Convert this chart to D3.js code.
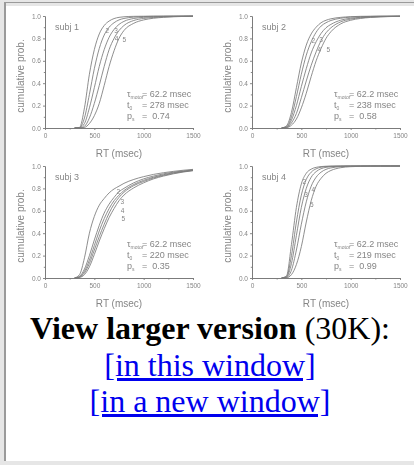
<!DOCTYPE html>
<html><head><meta charset="utf-8">
<script src="https://cdn.jsdelivr.net/npm/d3@7/dist/d3.min.js"></script>
<style>
html,body{margin:0;padding:0;width:414px;height:465px;overflow:hidden;background:#e6e6e6;}
#frame{position:absolute;left:4px;top:2px;width:410px;height:459px;border-top:1px solid #9a9a9a;border-left:2px solid #9a9a9a;box-sizing:border-box;}
#inner{position:absolute;left:6px;top:6px;width:408px;height:455px;background:#fff;}
#chart{position:absolute;left:0;top:0;filter:blur(0.55px);}
#caption{position:absolute;left:6px;top:310px;width:408px;text-align:center;font-family:"Liberation Serif","Times New Roman",serif;font-size:32px;line-height:36.5px;color:#000;}
#caption a{color:#0000ee;text-decoration:underline;}
</style></head>
<body>
<div id="frame"></div>
<div id="inner"></div>
<svg id="chart" width="414" height="310"></svg>
<div id="caption"><b>View larger version</b> (30K):<br><a href="#">[in this window]</a><br><a href="#">[in a new window]</a></div>
<script>
// ---- data ----
const rt = [300, 350, 400, 450, 500, 550, 600, 650, 700, 750, 800, 900, 1000, 1100, 1200, 1300, 1400, 1500];
const xTicks = [0, 500, 1000, 1500];
const xMinor = [250, 750, 1250];
const yTicks = [0, 0.2, 0.4, 0.6, 0.8, 1.0];
const yMinor = [0.1, 0.3, 0.5, 0.7, 0.9];
const curveNames = ["2", "3", "4", "5"];

const subjNames = ["subj 1", "subj 2", "subj 3", "subj 4"];
const tauMotor = ["62.2", "62.2", "62.2", "62.2"];
const t0 = ["278", "238", "220", "219"];
const ps = ["0.74", "0.58", "0.35", "0.99"];

const subj1 = [
  [0, 0.005, 0.18, 0.48, 0.70, 0.84, 0.915, 0.955, 0.977, 0.988, 0.993, 0.997, 0.998, 0.999, 0.999, 0.999, 0.999, 0.999],
  [0, 0.003, 0.09, 0.30, 0.53, 0.71, 0.83, 0.90, 0.94, 0.965, 0.978, 0.99, 0.995, 0.997, 0.998, 0.999, 0.999, 0.999],
  [0, 0.002, 0.04, 0.18, 0.36, 0.55, 0.70, 0.81, 0.88, 0.925, 0.952, 0.978, 0.988, 0.993, 0.996, 0.997, 0.998, 0.999],
  [0, 0, 0.015, 0.09, 0.22, 0.38, 0.55, 0.70, 0.80, 0.87, 0.915, 0.96, 0.978, 0.987, 0.992, 0.995, 0.997, 0.998],
  [0, 0, 0.005, 0.04, 0.11, 0.22, 0.38, 0.55, 0.69, 0.80, 0.87, 0.935, 0.965, 0.98, 0.988, 0.993, 0.996, 0.998]
];
const subj2 = [
  [0, 0.02, 0.14, 0.36, 0.58, 0.74, 0.84, 0.90, 0.94, 0.962, 0.975, 0.988, 0.994, 0.997, 0.998, 0.999, 0.999, 0.999],
  [0, 0.012, 0.10, 0.28, 0.48, 0.65, 0.77, 0.855, 0.91, 0.94, 0.96, 0.98, 0.99, 0.994, 0.996, 0.998, 0.998, 0.999],
  [0, 0.008, 0.07, 0.20, 0.37, 0.53, 0.67, 0.77, 0.845, 0.895, 0.925, 0.963, 0.98, 0.988, 0.993, 0.995, 0.997, 0.998],
  [0, 0.005, 0.045, 0.13, 0.27, 0.42, 0.56, 0.68, 0.78, 0.85, 0.895, 0.948, 0.972, 0.984, 0.99, 0.994, 0.996, 0.997],
  [0, 0.003, 0.025, 0.08, 0.18, 0.31, 0.46, 0.60, 0.71, 0.80, 0.86, 0.93, 0.962, 0.978, 0.987, 0.992, 0.995, 0.997]
];
const subj3 = [
  [0, 0.03, 0.18, 0.40, 0.55, 0.65, 0.71, 0.76, 0.795, 0.82, 0.845, 0.88, 0.905, 0.925, 0.94, 0.952, 0.962, 0.97],
  [0, 0.015, 0.08, 0.20, 0.34, 0.47, 0.58, 0.66, 0.72, 0.77, 0.80, 0.85, 0.885, 0.91, 0.93, 0.945, 0.955, 0.965],
  [0, 0.01, 0.06, 0.16, 0.29, 0.42, 0.53, 0.62, 0.69, 0.74, 0.78, 0.835, 0.872, 0.90, 0.922, 0.94, 0.952, 0.962],
  [0, 0.008, 0.045, 0.13, 0.25, 0.37, 0.48, 0.58, 0.66, 0.72, 0.765, 0.825, 0.862, 0.893, 0.916, 0.935, 0.949, 0.96],
  [0, 0.005, 0.03, 0.10, 0.21, 0.33, 0.44, 0.54, 0.62, 0.69, 0.74, 0.805, 0.85, 0.885, 0.91, 0.93, 0.946, 0.958]
];
const subj4 = [
  [0, 0.02, 0.30, 0.63, 0.84, 0.935, 0.972, 0.988, 0.995, 0.998, 0.999, 1, 1, 1, 1, 1, 1, 1],
  [0, 0.012, 0.20, 0.50, 0.74, 0.88, 0.945, 0.975, 0.989, 0.995, 0.998, 0.999, 1, 1, 1, 1, 1, 1],
  [0, 0.008, 0.13, 0.38, 0.63, 0.80, 0.90, 0.95, 0.976, 0.988, 0.994, 0.998, 0.999, 1, 1, 1, 1, 1],
  [0, 0.005, 0.07, 0.25, 0.48, 0.68, 0.82, 0.90, 0.945, 0.97, 0.983, 0.994, 0.998, 0.999, 1, 1, 1, 1],
  [0, 0.002, 0.03, 0.12, 0.28, 0.50, 0.69, 0.82, 0.89, 0.935, 0.96, 0.985, 0.994, 0.997, 0.999, 1, 1, 1]
];
const labelRT = [[632, 720, 726, 804], [622, 699, 682, 774], [743, 784, 787, 794], [530, 547, 622, 605]];
const labelP  = [[0.869, 0.869, 0.80, 0.79], [0.78, 0.786, 0.696, 0.696], [0.77, 0.68, 0.598, 0.527], [0.86, 0.747, 0.79, 0.652]];
const labelText = [curveNames, curveNames, curveNames, ["2", "3", "4", "5"]];
const allSubj = [subj1, subj2, subj3, subj4];

// ---- drawing ----
const grey = "#7a7a7a";
const textGrey = "#858585";
const font = "'Liberation Sans', Arial, sans-serif";
const svg = d3.select("#chart");

allSubj.forEach((curves, i) => {
  const col = i % 2, row = Math.floor(i / 2);
  const x0 = 45 + col * 207, yb = 128 + row * 150;
  const x = d3.scaleLinear().domain([0, 1500]).range([x0, x0 + 148]);
  const y = d3.scaleLinear().domain([0, 1]).range([yb, yb - 112]);
  const g = svg.append("g");

  const style = sel => {
    sel.selectAll("path.domain").attr("stroke", grey).attr("stroke-width", 0.9);
    sel.selectAll(".tick line").attr("stroke", grey).attr("stroke-width", 0.9);
    sel.selectAll(".tick text").attr("fill", textGrey).attr("font-size", "6.5px").attr("font-family", font);
  };

  g.append("g").attr("transform", `translate(0,${yb})`)
    .call(d3.axisBottom(x).tickValues(xTicks).tickSize(2).tickSizeOuter(0).tickPadding(3).tickFormat(d3.format("d")))
    .call(style);
  g.append("g").attr("transform", `translate(0,${yb})`)
    .call(d3.axisBottom(x).tickValues(xMinor).tickSize(1.5).tickSizeOuter(0).tickFormat(""))
    .call(style);
  g.append("g").attr("transform", `translate(${x0},0)`)
    .call(d3.axisLeft(y).tickValues(yTicks).tickSize(2).tickSizeOuter(0).tickPadding(2).tickFormat(d3.format(".1f")))
    .call(style);
  g.append("g").attr("transform", `translate(${x0},0)`)
    .call(d3.axisLeft(y).tickValues(yMinor).tickSize(1.2).tickSizeOuter(0).tickFormat(""))
    .call(style);

  const line = d3.line().x(d => x(d[0])).y(d => y(d[1])).curve(d3.curveMonotoneX);
  curves.forEach(c => {
    g.append("path").datum(rt.map((r, k) => [r, c[k]]))
      .attr("d", line).attr("fill", "none").attr("stroke", grey).attr("stroke-width", 0.85);
  });

  labelText[i].forEach((t, k) => {
    g.append("text").attr("x", x(labelRT[i][k])).attr("y", y(labelP[i][k]))
      .attr("dy", "0.35em").attr("text-anchor", "middle")
      .attr("font-size", "6.5px").attr("font-family", font).attr("fill", textGrey).text(t);
  });

  g.append("text").attr("x", x0 + 10).attr("y", yb - 98)
    .attr("font-size", "9px").attr("font-family", font).attr("fill", textGrey).text(subjNames[i]);

  g.append("text").attr("transform", `translate(${x0 - 21},${yb - 52}) rotate(-90)`)
    .attr("text-anchor", "middle").attr("font-size", "10px").attr("font-family", font).attr("fill", textGrey)
    .text("cumulative prob.");

  g.append("text").attr("x", x0 + 74).attr("y", yb + 28.5).attr("text-anchor", "middle")
    .attr("font-size", "10px").attr("font-family", font).attr("fill", textGrey).text("RT (msec)");

  const ann = [
    ["τ", "motor", "= " + tauMotor[i] + " msec", 31],
    ["t", "0", "= " + t0[i] + " msec", 20],
    ["p", "s", "=  " + ps[i], 9]
  ];
  ann.forEach(a => {
    const t = g.append("text").attr("x", x0 + 82).attr("y", yb - a[3])
      .attr("font-size", "9px").attr("font-family", font).attr("fill", textGrey);
    t.append("tspan").text(a[0]);
    t.append("tspan").attr("font-size", "5px").attr("dy", 2).text(a[1]);
    g.append("text").attr("x", x0 + 97).attr("y", yb - a[3])
      .attr("font-size", "9px").attr("font-family", font).attr("fill", textGrey)
      .attr("xml:space", "preserve").style("white-space", "pre").text(a[2]);
  });
});
</script>
</body></html>
